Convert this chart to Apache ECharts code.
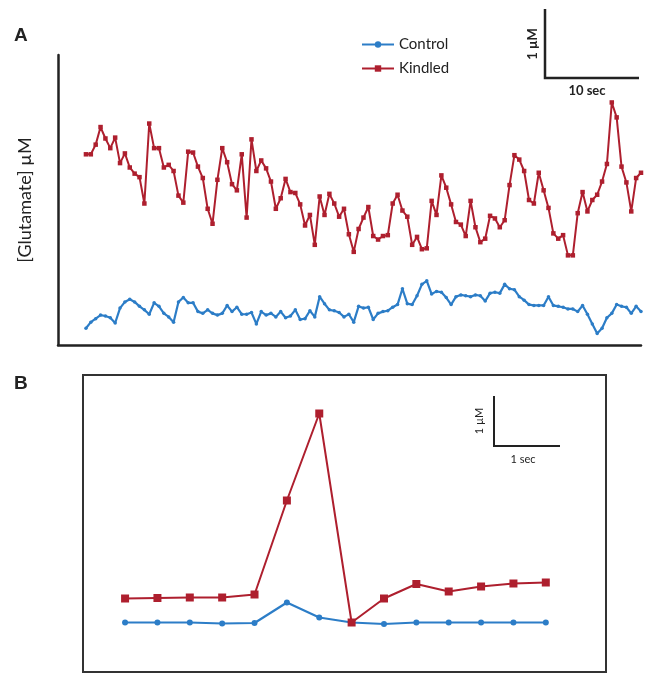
<!DOCTYPE html>
<html>
<head>
<meta charset="utf-8">
<script src="https://cdn.jsdelivr.net/npm/echarts@6/dist/echarts.min.js"></script>
<style>
html, body { margin: 0; padding: 0; background: #fff; }
#chart { width: 652px; height: 681px; }
</style>
</head>
<body>
<div id="chart"></div>
<script>
// panel A: glutamate traces (uM), one sample every 0.5 sec
var kindledA = [2.17, 2.17, 2.28, 2.48, 2.35, 2.24, 2.36, 2.07, 2.18, 2.02,
    1.95, 1.91, 1.61, 2.52, 2.24, 2.24, 2.02, 2.05, 1.98, 1.70,
    1.62, 2.20, 2.19, 2.03, 1.90, 1.55, 1.38, 1.88, 2.24, 2.08,
    1.83, 1.76, 2.17, 1.45, 2.34, 1.98, 2.10, 2.01, 1.86, 1.55,
    1.67, 1.89, 1.74, 1.73, 1.60, 1.36, 1.48, 1.14, 1.69, 1.48,
    1.72, 1.61, 1.46, 1.55, 1.26, 1.06, 1.32, 1.45, 1.57, 1.24,
    1.20, 1.24, 1.25, 1.61, 1.71, 1.53, 1.46, 1.14, 1.23, 1.09,
    1.10, 1.64, 1.48, 1.93, 1.79, 1.60, 1.40, 1.37, 1.24, 1.64,
    1.34, 1.17, 1.21, 1.47, 1.44, 1.34, 1.42, 1.82, 2.16, 2.11,
    1.98, 1.65, 1.61, 1.96, 1.76, 1.56, 1.27, 1.21, 1.25, 1.02,
    1.02, 1.50, 1.74, 1.52, 1.65, 1.71, 1.86, 2.06, 2.76, 2.59,
    2.03, 1.85, 1.52, 1.90, 1.96];
var controlA = [0.19, 0.26, 0.30, 0.34, 0.33, 0.31, 0.25, 0.42, 0.49, 0.52,
    0.49, 0.44, 0.40, 0.35, 0.48, 0.44, 0.36, 0.32, 0.26, 0.49,
    0.54, 0.48, 0.48, 0.38, 0.36, 0.40, 0.36, 0.34, 0.36, 0.45,
    0.38, 0.43, 0.35, 0.35, 0.37, 0.24, 0.38, 0.34, 0.36, 0.32,
    0.38, 0.31, 0.33, 0.40, 0.29, 0.30, 0.39, 0.32, 0.55, 0.47,
    0.40, 0.39, 0.37, 0.32, 0.35, 0.26, 0.44, 0.42, 0.43, 0.29,
    0.36, 0.38, 0.39, 0.43, 0.46, 0.64, 0.47, 0.46, 0.56, 0.69,
    0.73, 0.58, 0.61, 0.60, 0.54, 0.46, 0.55, 0.57, 0.56, 0.55,
    0.57, 0.56, 0.50, 0.59, 0.60, 0.59, 0.69, 0.64, 0.63, 0.55,
    0.51, 0.46, 0.45, 0.45, 0.45, 0.55, 0.45, 0.44, 0.43, 0.41,
    0.41, 0.38, 0.45, 0.35, 0.24, 0.13, 0.19, 0.31, 0.36, 0.46,
    0.44, 0.43, 0.36, 0.44, 0.38];

// panel B: zoom on the transient, one sample every 0.5 sec
var kindledB = [1.47, 1.48, 1.49, 1.49, 1.55, 3.43, 5.17, 0.99, 1.47, 1.76, 1.61, 1.71, 1.77, 1.79];
var controlB = [0.99, 0.99, 0.99, 0.97, 0.98, 1.39, 1.09, 0.99, 0.96, 0.99, 0.99, 0.99, 0.99, 0.99];

var stepA = 0.5;
var stepB = 0.5;
var red = '#AE1F2E';
var blue = '#2C7DC7';
var ink = '#222';
var font = 'Lato, "Open Sans", sans-serif';

function toPairs(arr, step) {
    var out = [];
    for (var i = 0; i < arr.length; i++) {
        out.push([i * step, arr[i]]);
    }
    return out;
}

var chart = echarts.init(document.getElementById('chart'));

var option = {
    animation: false,
    backgroundColor: '#fff',
    legend: {
        left: 356,
        top: 32,
        orient: 'vertical',
        itemWidth: 32,
        itemHeight: 8,
        itemGap: 9,
        data: ['Control', 'Kindled'],
        textStyle: { fontFamily: font, fontSize: 15, color: ink }
    },
    grid: [
        { left: 58, right: 11, top: 55, bottom: 336 },
        { left: 83, top: 375, width: 523, height: 297, show: true,
          borderColor: '#333', borderWidth: 2, backgroundColor: 'transparent' }
    ],
    xAxis: [
        { type: 'value', gridIndex: 0, min: -2.87, max: 57,
          axisLine: { show: true, onZero: false, lineStyle: { color: ink, width: 2.5 } },
          axisTick: { show: false }, axisLabel: { show: false }, splitLine: { show: false } },
        { type: 'value', gridIndex: 1, min: -0.65, max: 7.43,
          axisLine: { show: false }, axisTick: { show: false },
          axisLabel: { show: false }, splitLine: { show: false } }
    ],
    yAxis: [
        { type: 'value', gridIndex: 0, min: 0, max: 3.3,
          name: '[Glutamate] \u00b5M', nameLocation: 'middle', nameGap: 24,
          nameTextStyle: { fontFamily: font, fontSize: 18, color: ink },
          axisLine: { show: true, onZero: false, lineStyle: { color: ink, width: 2.5 } },
          axisTick: { show: false }, axisLabel: { show: false }, splitLine: { show: false } },
        { type: 'value', gridIndex: 1, min: 0, max: 5.94,
          axisLine: { show: false }, axisTick: { show: false },
          axisLabel: { show: false }, splitLine: { show: false } }
    ],
    series: [
        { name: 'Control', type: 'line', xAxisIndex: 0, yAxisIndex: 0,
          data: toPairs(controlA, stepA), symbol: 'circle', symbolSize: 3.5,
          itemStyle: { color: blue }, lineStyle: { color: blue, width: 2.2 } },
        { name: 'Kindled', type: 'line', xAxisIndex: 0, yAxisIndex: 0,
          data: toPairs(kindledA, stepA), symbol: 'rect', symbolSize: 4.5,
          itemStyle: { color: red }, lineStyle: { color: red, width: 2 } },
        { name: 'Control', type: 'line', xAxisIndex: 1, yAxisIndex: 1,
          data: toPairs(controlB, stepB), symbol: 'circle', symbolSize: 6,
          itemStyle: { color: blue }, lineStyle: { color: blue, width: 2.2 } },
        { name: 'Kindled', type: 'line', xAxisIndex: 1, yAxisIndex: 1,
          data: toPairs(kindledB, stepB), symbol: 'rect', symbolSize: 8,
          itemStyle: { color: red }, lineStyle: { color: red, width: 2 } }
    ],
    graphic: [
        { type: 'text', left: 14, top: 26,
          style: { text: 'A', fontFamily: 'Liberation Sans, Arial, sans-serif', fontWeight: 'bold', fontSize: 19, fill: ink } },
        { type: 'text', left: 14, top: 374,
          style: { text: 'B', fontFamily: 'Liberation Sans, Arial, sans-serif', fontWeight: 'bold', fontSize: 19, fill: ink } },
        // scale bar A
        { type: 'polyline', shape: { points: [[545, 9], [545, 78], [639, 78]] },
          style: { stroke: ink, lineWidth: 2.5, fill: null } },
        { type: 'text', x: 533, y: 44, rotation: Math.PI / 2,
          style: { text: '1 \u00b5M', fontFamily: font, fontSize: 13, fontWeight: 'bold', fill: ink, align: 'center', verticalAlign: 'middle' } },
        { type: 'text', x: 587, y: 91,
          style: { text: '10 sec', fontFamily: font, fontSize: 13, fontWeight: 'bold', fill: ink, align: 'center', verticalAlign: 'middle' } },
        // scale bar B
        { type: 'polyline', shape: { points: [[494, 396], [494, 446], [560, 446]] },
          style: { stroke: ink, lineWidth: 2, fill: null } },
        { type: 'text', x: 479, y: 421, rotation: Math.PI / 2,
          style: { text: '1 \u00b5M', fontFamily: font, fontSize: 11, fill: ink, align: 'center', verticalAlign: 'middle' } },
        { type: 'text', x: 523, y: 459,
          style: { text: '1 sec', fontFamily: font, fontSize: 11, fill: ink, align: 'center', verticalAlign: 'middle' } }
    ]
};

chart.setOption(option);
</script>
</body>
</html>
